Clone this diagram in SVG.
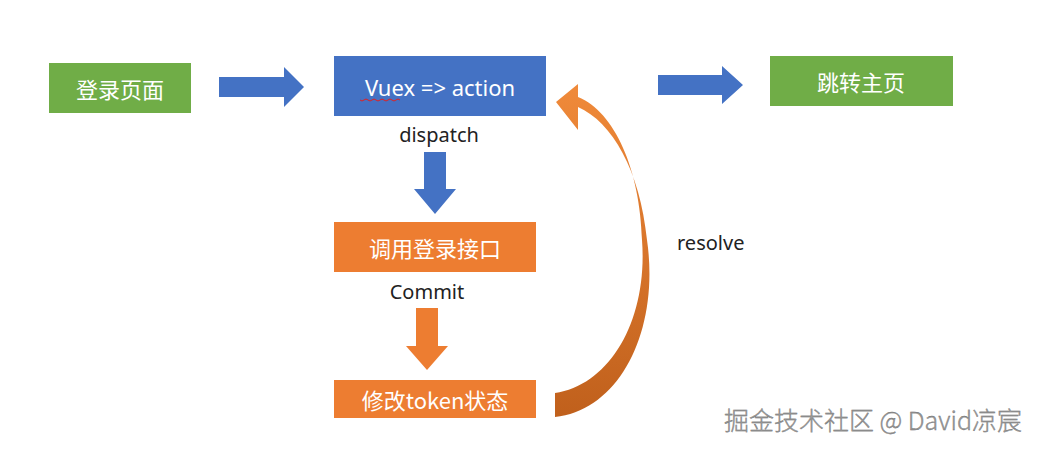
<svg xmlns="http://www.w3.org/2000/svg" width="1042" height="450" viewBox="0 0 1042 450">
<style>
.t{font-family:"Microsoft YaHei","Noto Sans CJK SC",sans-serif;font-size:22px;fill:#fff;text-anchor:middle;dominant-baseline:central}
.l{font-family:"Noto Sans","Noto Sans CJK SC",sans-serif;font-size:20px;fill:#222;dominant-baseline:central}
.g{fill:#70ad47}.b{fill:#4472c4}.o{fill:#ed7d31}
</style>
<defs>
<linearGradient id="cg" x1="0" y1="0" x2="0" y2="1"><stop offset="0" stop-color="#f08a3a"/><stop offset="1" stop-color="#c0601c"/></linearGradient>
</defs>
<rect width="1042" height="450" fill="#fff"/>
<g id="login"><rect class="g" x="49" y="63" width="142" height="50"/><text class="t" x="120" y="88">登录页面</text></g>
<g id="vuex"><rect class="b" x="334" y="56" width="212" height="60"/><text class="t" x="440" y="87" style="font-family:'Noto Sans','Noto Sans CJK SC',sans-serif">Vuex =&gt; action</text>
<path d="M360,100 q2,2 4,0 t4,0 t4,0 t4,0 t4,0 t4,0 t4,0 t4,0 t4,0 t4,0" fill="none" stroke="#e02020" stroke-width="1"/></g>
<g id="home"><rect class="g" x="770" y="56" width="183" height="50"/><text class="t" x="861" y="81">跳转主页</text></g>
<g id="api"><rect class="o" x="334" y="222" width="202" height="50"/><text class="t" x="435" y="247">调用登录接口</text></g>
<g id="token"><rect class="o" x="334" y="380" width="202" height="38"/><text class="t" x="435" y="399">修改token状态</text></g>
<g id="connectors">
<polygon class="b" points="219,77 284,77 284,67 304,87 284,107 284,97 219,97"/>
<polygon class="b" points="658,75 722,75 722,66 743,85 722,104 722,95 658,95"/>
<polygon class="b" points="424,152 446,152 446,189 456,189 435,214 414,189 424,189"/>
<polygon class="o" points="416,308 438,308 438,346 448,346 427,370 406,346 416,346"/>
<path fill="url(#cg)" d="M555,417 C620,410 660,330 647,240 C640,170 612,122 578,107 L578,130 L556,102 L578,84 L578,97 C615,112 640,170 642,240 C648,320 610,385 555,393 Z"/>
<text class="l" x="439" y="134" text-anchor="middle">dispatch</text>
<text class="l" x="427" y="291" text-anchor="middle">Commit</text>
<text class="l" x="677" y="242">resolve</text>
</g>
<text x="724" y="430" font-family="'Noto Sans CJK SC',sans-serif" font-weight="300" font-size="25" fill="#9a9a9a" stroke="#666" stroke-width="0.3">掘金技术社区 @ David凉宸</text>
</svg>
